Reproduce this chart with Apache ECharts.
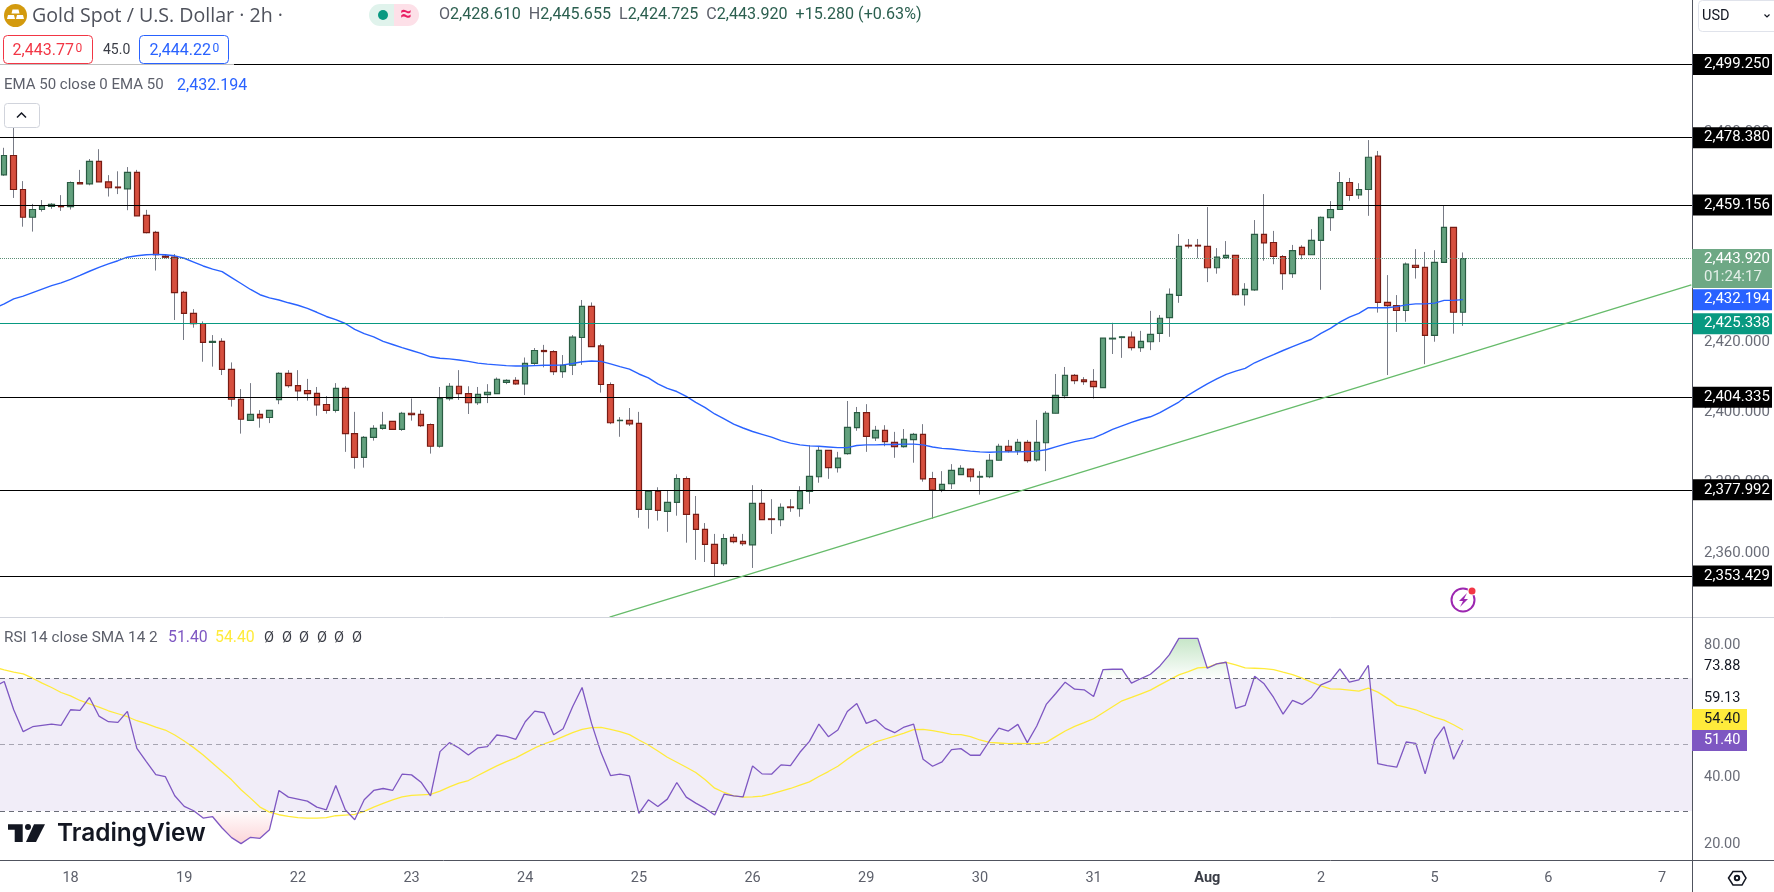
<!DOCTYPE html>
<html>
<head>
    <meta charset="utf-8">
    <title>Gold Spot / U.S. Dollar</title>
    <script src="https://cdn.jsdelivr.net/npm/echarts@6/dist/echarts.min.js"></script>
    <style>
        html, body { margin: 0; padding: 0; background: #fff; }
        #chart { width: 1774px; height: 892px; }
    </style>
</head>
<body>
<div id="chart"></div>
<script>
// 2h candles
var opens = [2467.8,2473.3,2463.6,2455.7,2457.9,2458.8,2459,2458.7,2465.6,2465.2,
  2471.6,2465.8,2464.3,2463.8,2468.5,2456.2,2451.4,2444.6,2444.3,2434.3,
  2428.3,2425.4,2420,2420.3,2412.3,2403.8,2397.8,2399.5,2398.6,2403.7,
  2411.2,2407.7,2406.3,2405.5,2402.3,2400.6,2406.9,2394,2387.2,2392.9,
  2395.5,2397.5,2395.2,2399.8,2399.5,2396.6,2390.4,2404,2407.5,2405.4,
  2402.8,2405.1,2405.4,2408.6,2409.2,2408.2,2414,2417.7,2417.4,2411.7,
  2413.5,2421.4,2430.3,2419,2408,2397.7,2397.8,2396.9,2372.4,2377.5,
  2371.8,2374.4,2381.2,2371,2366.7,2362.4,2356.9,2364.4,2363.3,2362.3,
  2374.1,2369.7,2369.5,2373.1,2372.6,2377.5,2381.7,2389.2,2384.3,2388.3,
  2395.7,2400,2392.8,2394.9,2391.5,2390.3,2392.3,2393.8,2381.2,2378,
  2379.7,2382.3,2383.9,2381.6,2381.7,2386.4,2390.4,2389.1,2391.5,2386.5,
  2391.4,2399.8,2404.8,2410.6,2409.3,2408.9,2407.1,2421,2421.4,2421.5,
  2418.5,2420.2,2422.6,2427.1,2433.4,2447.7,2447.7,2447.4,2441.3,2444.2,
  2444.8,2433.6,2435,2450.8,2448.5,2444.5,2439.6,2447.1,2445,2449.1,
  2455.6,2457.9,2465.6,2462.1,2463.6,2473.1,2431.4,2430.5,2429.1,2442,
  2441.4,2422,2442.8,2452.8,2428.61];
var closes = [2473.3,2463.6,2455.7,2457.9,2458.9,2459.4,2458.7,2465.6,2465.2,2471.6,
  2465.8,2464.1,2464.1,2468.5,2456.1,2451.3,2445,2444.3,2434.2,2428.3,
  2425.35,2420,2420.3,2412.3,2403.8,2398.1,2399.5,2398.5,2400.6,2411.2,
  2407.7,2406.2,2405.4,2402.2,2400.6,2406.9,2394,2387.2,2392.9,2395.5,
  2396.4,2395.2,2399.8,2399.4,2396.3,2390.4,2404,2407.5,2405.4,2402.8,
  2405.2,2405.8,2409.5,2409.2,2408.2,2414,2417.7,2417.4,2411.7,2413.5,
  2421.5,2430.3,2418.8,2408,2397.1,2397.8,2396.8,2372.4,2377.5,2372.1,
  2374.4,2381.2,2371,2366.7,2362.4,2357,2364.1,2363.2,2362.6,2374.1,
  2369.5,2369.5,2373,2372.9,2377.6,2381.8,2389.2,2384.3,2387,2395.8,
  2400,2393.2,2394.9,2391.7,2390.3,2392.4,2393.8,2381.1,2378,2379.5,
  2383.5,2384.1,2381.7,2381.8,2386.4,2390.4,2389.1,2391.5,2386.3,2391.5,
  2399.8,2404.9,2410.6,2409.1,2408.8,2407.4,2421.2,2421.2,2421.6,2418.5,
  2420.3,2422.3,2426.9,2433.7,2447.4,2447.5,2447.5,2441.3,2444.3,2444.8,
  2433.6,2435.1,2450.8,2448.4,2444.5,2439.6,2446.2,2445,2449.1,2455.7,
  2457.9,2465.6,2461.9,2463.6,2472.8,2431.4,2430.5,2429.1,2442.3,2441.4,
  2422,2442.8,2452.8,2428.6,2443.92];
var highs = [2475.5,2483.9,2466,2459.5,2460.6,2459.7,2462,2465.9,2469.2,2472.3,
  2475.1,2467.7,2468.8,2470,2469.2,2457.8,2451.8,2445,2445.2,2434.7,
  2429.5,2426,2422.1,2421.2,2414.3,2406.7,2408.4,2400.7,2400.6,2411.5,
  2412.1,2412.1,2409.6,2407.3,2404.7,2408.4,2407.5,2400.2,2393.3,2396.4,
  2400.2,2397.5,2400.2,2404,2400.7,2396.9,2407.3,2408.4,2412.1,2407.5,
  2407.3,2408.1,2410,2409.5,2410.1,2415.7,2418.4,2419.3,2417.8,2416.4,
  2422.1,2432.1,2431.4,2419.6,2408.6,2398.7,2401.3,2400.2,2377.8,2378.7,
  2377.8,2382.4,2381.8,2376.2,2368.5,2365.4,2365.4,2365.4,2365.4,2379.3,
  2378.2,2375.3,2374.1,2375.3,2379,2390.7,2390.3,2389.2,2388.8,2403.3,
  2401.6,2402.4,2396.2,2396.4,2394.5,2395.3,2394.2,2396.7,2383.1,2383.3,
  2385.3,2385,2384.1,2383.3,2388.2,2391.1,2392.2,2392.5,2392.2,2397.9,
  2400.4,2411,2413,2411,2410.1,2412.4,2421.2,2425.6,2421.7,2423.1,
  2423.3,2429,2427.8,2435.4,2450.9,2449.5,2449.5,2458.6,2446.9,2448.9,
  2444.8,2436.9,2454.9,2462.3,2451.8,2444.9,2447.8,2447.7,2452.3,2455.9,
  2460.3,2468.6,2466.9,2465.4,2477.7,2474.6,2439.2,2433.5,2442.8,2446.6,
  2445.8,2446.3,2459,2452.8,2445.655];
var lows = [2467.5,2461.2,2453,2451.6,2457.3,2458.1,2457.5,2457.9,2465.2,2464.8,
  2465.8,2461.6,2462.3,2457.7,2456.1,2451.1,2440.5,2444,2426.4,2420.7,
  2424.2,2414.5,2413.1,2410.7,2401.7,2394,2397.8,2395.7,2397,2402.4,
  2407.1,2403.4,2403.4,2399.1,2399.7,2400,2388.8,2384,2384.3,2392,
  2395.1,2395.2,2394.8,2397.7,2395.9,2388.3,2390,2403.4,2403.6,2399.6,
  2402.2,2402.7,2405.4,2408.1,2407.9,2405,2413.6,2412.9,2410.7,2409.9,
  2410.7,2413.6,2418.8,2405.7,2396.7,2393.1,2396.2,2370,2366.9,2369.2,
  2366,2370.6,2362.9,2358,2357.4,2353.3,2356.3,2362.7,2362,2355.7,
  2369.5,2365.4,2367.6,2371.7,2370.3,2374,2380,2381.1,2382.9,2388,
  2394.8,2388.8,2391.9,2390.4,2387.1,2390,2385.7,2380.3,2369.7,2377.3,
  2378.2,2382.3,2380.3,2376.6,2381.3,2386.4,2388.6,2387.9,2385.7,2386,
  2383.3,2399.8,2404,2408.1,2407.9,2404,2407.1,2416.7,2415.6,2417.7,
  2417.3,2417.8,2420.1,2421.6,2431.3,2446.8,2444,2437.2,2439.6,2443.9,
  2433.4,2430.5,2434.7,2443.3,2442.3,2435,2438.4,2443.7,2445,2435,
  2451.8,2457.8,2460.4,2460.9,2456.1,2428.5,2410.7,2423,2425.9,2438.2,
  2413.8,2420.2,2442.8,2422.5,2424.725];

// indicators start one bar before the first candle, that bar lies off the left edge
var ema50 = [2429.8,2431,2432.4,2433.2,2434.2,2435.2,2436.2,2437,2438,2439.1,2440.3,
  2441.4,2442.4,2443.3,2444.3,2444.7,2445,2445.1,2445,2444.7,2444,
  2442.9,2441.8,2440.9,2440.2,2438.5,2436.8,2435.1,2433.6,2432.7,2432.1,
  2431.3,2430.6,2429.7,2428.6,2427.4,2426.5,2425.4,2423.7,2422.5,2421.6,
  2420.3,2419.4,2418.5,2417.7,2416.9,2415.9,2415.5,2415.3,2415,2414.6,
  2414.1,2413.8,2413.6,2413.4,2413.3,2413.3,2413.4,2413.5,2413.5,2413.6,
  2414,2414.5,2414.7,2414.6,2413.9,2413.1,2412.4,2411,2409.9,2408.2,
  2406.9,2406,2404.6,2402.9,2401.4,2399.6,2398.2,2396.7,2395.6,2394.6,
  2393.8,2393,2392,2391.3,2390.8,2390.5,2390.4,2390.2,2390,2390,
  2390.6,2390.8,2390.8,2390.9,2390.9,2391,2391,2390.8,2390.2,2389.8,
  2389.6,2389.3,2389,2388.8,2388.7,2388.8,2388.8,2388.8,2388.9,2389,
  2389.4,2390.2,2391,2391.7,2392.3,2392.8,2393.9,2395.2,2396.2,2397.2,
  2398.1,2398.8,2400,2401.5,2403,2405,2406.6,2408.2,2409.6,2410.9,
  2411.8,2412.6,2414.2,2415.4,2416.5,2417.7,2418.8,2419.9,2420.9,2422.6,
  2424,2425.8,2427.2,2428.3,2429.9,2429.9,2429.9,2430.2,2430.7,2431,
  2431,2431.2,2432,2432,2432.194];
var rsi14 = [67.5,69,60.5,53.9,55.4,55.8,56.2,55.8,60.5,60.3,64.2,
  58.6,56.9,56.7,60,48.9,44.9,41,40.4,34.6,31.4,
  30.1,27.9,28.3,24.9,22,20.2,22.1,21.8,24.4,36.2,
  34.2,33.6,33,31.2,30.4,37.7,30.4,27.4,33.4,36.2,
  36.8,36.2,41.1,40.9,38.7,34.6,47.9,50.6,49,46.9,
  49,49.4,52.9,52.5,51.6,56.9,60.1,59.6,53,54.8,
  61.4,67.2,56.4,47.6,40.7,41.1,40.6,29.3,33.4,31.4,
  33.6,38.6,34.2,32.4,30.8,28.8,35.1,34.6,34.3,43.6,
  41.2,41.1,43.9,43.7,47.7,51,56.2,52.4,54.4,60,
  62.4,56.4,57.5,54.9,53.6,55.3,56.2,45.6,43.5,44.8,
  48.5,48.8,46.8,46.8,51.1,55,54.1,56.1,50.6,55.6,
  62.1,65.4,68.8,66.7,66.5,64.5,72.6,72.7,72.7,68.5,
  69.9,71.2,73.7,77.1,82,82,82,73,74.3,74.8,
  60.9,61.8,70.6,68.3,64.2,59.2,63.3,62.1,64.3,68,
  69.2,72.8,68.8,69.5,73.9,44.3,43.7,43.2,50.8,50.4,
  41.2,51.4,55.4,45.6,51.4];
var rsiSma = [73.3,72.5,71.8,71.3,70,68.5,67.2,65.7,64.7,63.3,62.3,
  61.3,60.2,59.3,58.4,57.2,56.3,55.3,54.4,52.9,51.1,
  49.1,46.9,44.4,41.9,39.4,36.4,33.9,31.2,29.7,28.9,
  28.4,28,27.9,27.9,28,28.6,28.8,29,29.9,31.2,
  32.3,33.4,34.3,34.7,34.9,35,36,37.3,38.4,39.2,
  40.7,42.2,43.6,44.9,46,47.5,49,50.2,51.2,52.4,
  53.6,54.6,55.1,55.2,54.6,53.9,53,51.4,49.9,48.1,
  46.2,44.7,43.2,41.6,39.4,36.9,35.6,34.6,34.2,34.3,
  34.5,35.2,36,36.8,37.8,38.8,40.4,41.9,43.5,45.6,
  47.6,49.2,50.8,51.7,52.6,53.5,54.5,54.6,54.2,53.7,
  53.1,53,52.4,51.4,50.7,50.5,50.3,50.4,50.3,50.3,
  50.7,52.4,54.1,55.5,56.6,57.8,59.6,61.4,63.2,64.2,
  65.3,66.4,68,69.5,71,72,73.1,73.3,74.3,74.8,
  74,73.1,73,72.9,72.6,71.8,71.1,70,68.8,67.7,
  66.8,66.7,66.4,66.1,67,65.8,64,61.9,61.2,60.5,
  59.3,58.2,57.4,56,54.4];

// horizontal drawings
var blackLevels = [2499.25, 2478.38, 2459.156, 2404.335, 2377.992, 2353.429];
var tealLevel = 2425.338;
var lastPrice = 2443.92;
var lastEma = 2432.194;
var trendline = [[63.9, 2341.7], [178.1, 2436.4]];   // bar index, price
var rsiBands = [70, 50, 30];

// time axis, one label every 12 bars
var dateTicks = [7, 19, 31, 43, 55, 67, 79, 91, 103, 115, 127, 139, 151, 163, 175];
var dateLabels = ['18', '19', '22', '23', '24', '25', '26', '29', '30', '31', 'Aug', '2', '5', '6', '7'];

var FONT = 'Roboto, "Liberation Sans", sans-serif';
var X_MIN = -0.4476, X_MAX = 178.17;

function price(v) {
  var s = v.toFixed(3).split('.');
  return s[0].replace(/\B(?=(\d{3})+$)/g, ',') + '.' + s[1];
}

// points of the rsi that lie beyond a level, with the crossings added, for the shaded caps
function beyond(values, level, sign) {
  var pts = [];
  values.forEach(function (v, i) {
    if (i > 0 && (values[i - 1] - level) * (v - level) < 0) {
      pts.push([i - 2 + (level - values[i - 1]) / (v - values[i - 1]), level]);
    }
    pts.push([i - 1, sign * (v - level) > 0 ? v : level]);
  });
  return pts;
}

function indexed(values) {
  return values.map(function (v, i) { return [i - 1, v]; });
}

var wickData = opens.map(function (o, i) { return [i, o, closes[i], lows[i], highs[i]]; });
var bodyData = opens.map(function (o, i) {
  return [i, o, closes[i], Math.min(o, closes[i]), Math.max(o, closes[i])];
});

function levelLabel(bg, fg) {
  return {
    show: true, position: 'end', distance: 0, color: fg, backgroundColor: bg,
    fontFamily: FONT, fontSize: 15, width: 68, height: 21, lineHeight: 21,
    padding: [0, 0, 0, 12],
    formatter: function (p) { return price(p.value); }
  };
}

var levelLines = blackLevels.map(function (v) {
  return { yAxis: v, lineStyle: { color: '#000', width: 1.2, type: 'solid' }, label: levelLabel('#000', '#fff') };
});
levelLines.push({ yAxis: tealLevel, lineStyle: { color: '#089981', width: 1.2, type: 'solid' }, label: levelLabel('#089981', '#fff') });
levelLines.push({ yAxis: lastPrice, lineStyle: { color: '#5c8f76', width: 1, type: 'dotted' }, label: { show: false } });
levelLines.push({ yAxis: lastEma, lineStyle: { color: 'transparent', width: 1, type: 'solid' }, label: levelLabel('#2962ff', '#fff') });

function txt(x, y, text, color, size, extra) {
  var style = { x: x, y: y, text: text, fill: color, fontFamily: FONT, fontSize: size, verticalAlign: 'middle' };
  for (var k in extra || {}) style[k] = extra[k];
  return { type: 'text', z: 100, style: style };
}
function box(x, y, w, h, fill, stroke, r, opacity) {
  return {
    type: 'rect', z: 90, shape: { x: x, y: y, width: w, height: h, r: r || 0 },
    style: { fill: fill, stroke: stroke || null, lineWidth: stroke ? 1 : 0, opacity: opacity == null ? 1 : opacity }
  };
}
function hline(x1, y1, x2, y2, color) {
  return { type: 'line', z: 80, shape: { x1: x1, y1: y1, x2: x2, y2: y2 }, style: { stroke: color, lineWidth: 1 } };
}
function poly(points, fill, stroke) {
  return { type: 'polygon', z: 100, shape: { points: points }, style: { fill: fill, stroke: stroke || null, lineWidth: stroke ? 1.5 : 0 } };
}
function circle(cx, cy, r, fill, stroke) {
  return { type: 'circle', z: 100, shape: { cx: cx, cy: cy, r: r }, style: { fill: fill, stroke: stroke || null, lineWidth: stroke ? 2 : 0 } };
}
function bar(x, y) {
  return poly([[x, y], [x + 6, y], [x + 7, y + 4], [x - 1, y + 4]], '#fff');
}

var overlay = [
  // pane frames
  hline(0, 617.5, 1774, 617.5, '#d1d4dc'),
  hline(0, 860.5, 1774, 860.5, '#50535e'),
  hline(1692.5, 0, 1692.5, 892, '#50535e'),

  // header
  circle(15.5, 15.5, 11.5, '#d39a0e'),
  bar(12.5, 9.5), bar(8, 15), bar(17, 15),
  txt(32, 16, 'Gold Spot / U.S. Dollar \u00b7 2h \u00b7', '#4f525c', 19.6, { fontFamily: '"Open Sans", Roboto, sans-serif' }),
  box(369, 4, 25, 22, '#e0f3ec', null, [11, 0, 0, 11]),
  box(394, 4, 25, 22, '#fde0e8', null, [0, 11, 11, 0]),
  circle(383, 15, 5, '#089981'),
  txt(406, 15, '\u2248', '#e91e63', 20, { align: 'center', fontWeight: 'bold' }),
  txt(439, 15, '{k|O}{v|2,428.610}  {k|H}{v|2,445.655}  {k|L}{v|2,424.725}  {k|C}{v|2,443.920}  {v|+15.280 (+0.63%)}', '#2b5f4f', 16.1, {
    rich: {
      k: { fill: '#5d606b', fontFamily: FONT, fontSize: 16.1 },
      v: { fill: '#2b5f4f', fontFamily: FONT, fontSize: 16.1 }
    }
  }),

  // bid and ask
  box(0, 62, 234, 4, '#fff', null, 0, 0.75),
  box(3.5, 35.5, 89, 28, '#fff', '#f23645', 4),
  txt(12.6, 50.5, '2,443.77', '#f23645', 16),
  txt(75.5, 49, '0', '#f23645', 12),
  txt(103, 50.5, '45.0', '#3a3d46', 14),
  box(139.5, 35.5, 89, 28, '#fff', '#2962ff', 4),
  txt(149.6, 50.5, '2,444.22', '#2962ff', 16),
  txt(212.4, 49, '0', '#2962ff', 12),

  // legends
  txt(4, 85.5, 'EMA 50 close 0 EMA 50', '#5d606b', 15),
  txt(177, 85.5, '2,432.194', '#2962ff', 16),
  box(4.5, 103.5, 35, 24, '#fff', '#d1d4dc', 3),
  { type: 'polyline', z: 100, shape: { points: [[17, 117.5], [21.5, 113], [26, 117.5]] }, style: { stroke: '#131722', lineWidth: 1.5, fill: null } },
  txt(4, 638, 'RSI 14 close SMA 14 2', '#5d606b', 15.3),
  txt(168, 638, '51.40', '#7e57c2', 15.8),
  txt(215, 638, '54.40', '#ffeb3b', 15.8),
  txt(264, 638, '\u00d8', '#3a3d46', 14.5),
  txt(282, 638, '\u00d8', '#3a3d46', 14.5),
  txt(299, 638, '\u00d8', '#3a3d46', 14.5),
  txt(317, 638, '\u00d8', '#3a3d46', 14.5),
  txt(334, 638, '\u00d8', '#3a3d46', 14.5),
  txt(352, 638, '\u00d8', '#3a3d46', 14.5),

  // currency picker
  box(1698.5, 0.5, 80, 31, '#fff', '#e0e3eb', 4),
  txt(1702, 16, 'USD', '#131722', 14.5),
  { type: 'polyline', z: 100, shape: { points: [[1764.5, 14.5], [1767, 17], [1769.5, 14.5]] }, style: { stroke: '#131722', lineWidth: 1.2, fill: null } },

  // last price tag
  box(1692, 249, 80, 39, '#6ea885'),
  txt(1704, 259, price(lastPrice), '#fff', 15),
  txt(1704, 277, '01:24:17', '#e4efe8', 15),

  // lightning badge
  circle(1463, 600, 11.5, null, '#9c27b0'),
  poly([[1467, 593], [1459, 601], [1463, 601], [1460, 607], [1468, 599], [1464, 599]], '#9c27b0'),
  circle(1472, 591, 4.5, '#fff'),
  circle(1472, 591, 3.5, '#f23645'),

  // rsi scale tags
  box(1693, 656, 54, 21, '#fff'),
  txt(1704, 666.7, '73.88', '#131722', 14.5),
  box(1693, 688, 54, 21, '#fff'),
  txt(1704, 698.3, '59.13', '#131722', 14.5),
  box(1692, 709, 55, 21, '#ffeb3b'),
  txt(1704, 719.7, '54.40', '#131722', 14.5),
  box(1692, 730, 55, 21, '#7e57c2'),
  txt(1704, 740.7, '51.40', '#fff', 14.5),

  // watermark
  poly([[8, 824.3], [22.7, 824.3], [22.7, 842], [14.7, 842], [14.7, 829.7], [8, 829.7]], '#131722'),
  circle(28, 827, 3, '#131722'),
  poly([[34, 824.3], [45, 824.3], [36, 842], [26, 842]], '#131722'),
  txt(57, 834, 'TradingView', '#131722', 24.4, { fontFamily: 'Inter, Roboto, sans-serif', fontWeight: 600 }),

  // settings
  poly([[1728.5, 878], [1733, 871.5], [1742, 871.5], [1746, 878], [1742, 885], [1733, 885]], null, '#131722'),
  circle(1737, 878, 2.2, null, '#131722')
];

var option = {
  animation: false,
  backgroundColor: '#fff',
  grid: [
    { left: 0, width: 1692, top: -8.28, height: 631.28, outerBoundsMode: 'none' },
    { left: 0, width: 1692, top: 578.55, height: 265.75, outerBoundsMode: 'none' }
  ],
  xAxis: [
    { type: 'value', gridIndex: 0, min: X_MIN, max: X_MAX, show: false, splitLine: { show: false } },
    {
      type: 'value', gridIndex: 1, min: X_MIN, max: X_MAX, offset: 16,
      axisLine: { show: false }, axisTick: { show: false }, splitLine: { show: false },
      axisLabel: {
        customValues: dateTicks, margin: 11, color: '#5d606b', fontFamily: FONT, fontSize: 14.5,
        formatter: function (v) {
          var s = dateLabels[dateTicks.indexOf(v)];
          return s === 'Aug' ? '{b|Aug}' : s;
        },
        rich: { b: { fontWeight: 'bold', color: '#3a3d46', fontFamily: FONT, fontSize: 14.5 } }
      }
    }
  ],
  yAxis: [
    {
      type: 'value', gridIndex: 0, position: 'right', min: 2340, max: 2520, interval: 20,
      axisLine: { show: false }, axisTick: { show: false }, splitLine: { show: false },
      axisLabel: {
        margin: 12, color: '#6a6d78', fontFamily: FONT, fontSize: 15,
        formatter: function (v) { return v < 2360 ? '' : price(v); }
      }
    },
    {
      type: 'value', gridIndex: 1, position: 'right', min: 20, max: 100, interval: 20,
      axisLine: { show: false }, axisTick: { show: false }, splitLine: { show: false },
      axisLabel: {
        margin: 12, color: '#6a6d78', fontFamily: FONT, fontSize: 14.5,
        formatter: function (v) { return v === 60 || v === 100 ? '' : v.toFixed(2); }
      }
    }
  ],
  series: [
    {
      name: 'levels', type: 'line', xAxisIndex: 0, yAxisIndex: 0, data: [], z: 1, silent: true,
      markLine: { silent: true, symbol: 'none', animation: false, precision: 3, data: levelLines }
    },
    {
      name: 'wicks', type: 'candlestick', xAxisIndex: 0, yAxisIndex: 0, z: 2, barWidth: 1, data: wickData,
      itemStyle: { color: '#787b86', color0: '#787b86', borderColor: '#787b86', borderColor0: '#787b86', borderWidth: 1 }
    },
    {
      name: 'bodies', type: 'candlestick', xAxisIndex: 0, yAxisIndex: 0, z: 3, barWidth: 6, data: bodyData,
      itemStyle: { color: '#63a17e', color0: '#d64f3e', borderColor: '#2a5c43', borderColor0: '#781c14', borderWidth: 1.2 }
    },
    {
      name: 'EMA 50', type: 'line', xAxisIndex: 0, yAxisIndex: 0, z: 4, data: indexed(ema50), symbol: 'none',
      lineStyle: { color: '#2962ff', width: 1.4 }
    },
    {
      name: 'trend', type: 'line', xAxisIndex: 0, yAxisIndex: 0, z: 5, data: trendline, symbol: 'none',
      lineStyle: { color: '#66bb6a', width: 1.3 }
    },
    {
      name: 'overbought', type: 'line', xAxisIndex: 1, yAxisIndex: 1, z: 2, data: beyond(rsi14, 70, 1), symbol: 'none',
      lineStyle: { width: 0 },
      areaStyle: {
        origin: 70,
        color: { type: 'linear', x: 0, y: 0, x2: 0, y2: 1, colorStops: [
          { offset: 0, color: 'rgba(76,175,80,0.45)' }, { offset: 1, color: 'rgba(76,175,80,0.02)' }] }
      }
    },
    {
      name: 'oversold', type: 'line', xAxisIndex: 1, yAxisIndex: 1, z: 2, data: beyond(rsi14, 30, -1), symbol: 'none',
      lineStyle: { width: 0 },
      areaStyle: {
        origin: 30,
        color: { type: 'linear', x: 0, y: 0, x2: 0, y2: 1, colorStops: [
          { offset: 0, color: 'rgba(242,54,69,0.02)' }, { offset: 1, color: 'rgba(242,54,69,0.3)' }] }
      }
    },
    {
      name: 'RSI SMA', type: 'line', xAxisIndex: 1, yAxisIndex: 1, z: 3, data: indexed(rsiSma), symbol: 'none',
      lineStyle: { color: '#ffeb3b', width: 1.3 }
    },
    {
      name: 'RSI', type: 'line', xAxisIndex: 1, yAxisIndex: 1, z: 4, data: indexed(rsi14), symbol: 'none',
      lineStyle: { color: '#7e57c2', width: 1.3 },
      markArea: {
        silent: true, animation: false,
        itemStyle: { color: 'rgba(126,87,194,0.11)' },
        data: [[{ yAxis: rsiBands[0] }, { yAxis: rsiBands[2] }]]
      },
      markLine: {
        silent: true, symbol: 'none', animation: false, label: { show: false },
        data: rsiBands.map(function (v) {
          return { yAxis: v, lineStyle: { color: v === 50 ? '#a7a5b2' : '#6a6d78', width: 1, type: [5, 4] } };
        })
      }
    }
  ],
  graphic: overlay
};

var myChart = echarts.init(document.getElementById('chart'));
myChart.setOption(option);
</script>
</body>
</html>
